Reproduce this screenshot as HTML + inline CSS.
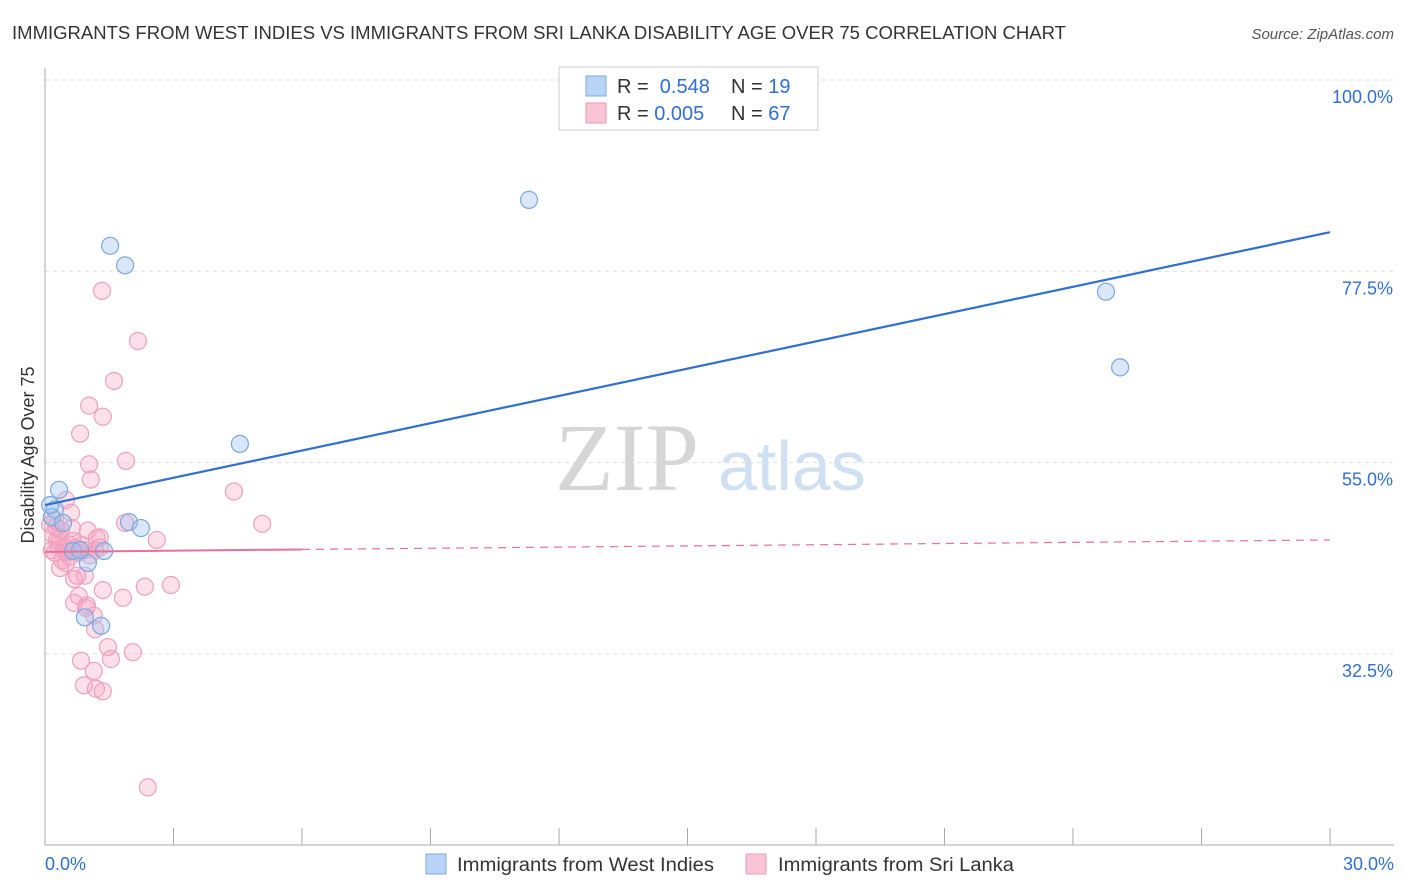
<!DOCTYPE html>
<html><head><meta charset="utf-8"><style>
body{margin:0;background:#fff;font-family:"Liberation Sans",sans-serif;}
svg{display:block}
</style></head><body>
<svg id="chart" width="1406" height="892">
<text x="12" y="39" font-size="18" fill="#333" textLength="1054" lengthAdjust="spacingAndGlyphs">IMMIGRANTS FROM WEST INDIES VS IMMIGRANTS FROM SRI LANKA DISABILITY AGE OVER 75 CORRELATION CHART</text>
<text x="1394" y="39" font-size="15" fill="#555" text-anchor="end" font-style="italic">Source: ZipAtlas.com</text>
<g id="grid"></g>
<text x="555" y="490" font-size="96" fill="#d6d6d6" font-family="Liberation Serif,serif">ZIP</text>
<text x="718" y="490" font-size="70" fill="#cfe0f3">atlas</text>
<text transform="translate(34,455) rotate(-90)" font-size="18" fill="#333" text-anchor="middle">Disability Age Over 75</text>
<g id="axes"></g>
<g id="marks"></g>
<g>
<rect x="559" y="67" width="259" height="63" fill="#fff" stroke="#ccc"/>
<rect x="586" y="76" width="20" height="20" fill="#b8d3f5" stroke="#7aa8e0"/>
<rect x="586" y="103" width="20" height="20" fill="#f9c4d5" stroke="#ee99b5"/>
<text x="617" y="93" font-size="20" fill="#333">R = <tspan fill="#2f6fd0">&#160;0.548</tspan><tspan x="731">N = </tspan><tspan fill="#2f6fd0">19</tspan></text>
<text x="617" y="120" font-size="20" fill="#333">R = <tspan fill="#2f6fd0">0.005</tspan><tspan x="731">N = </tspan><tspan fill="#2f6fd0">67</tspan></text>
</g>
<g>
<rect x="426" y="854" width="20" height="20" fill="#b8d3f5" stroke="#7aa8e0"/>
<text x="457" y="871" font-size="19" fill="#333" textLength="257" lengthAdjust="spacingAndGlyphs">Immigrants from West Indies</text>
<rect x="746" y="854" width="20" height="20" fill="#f9c4d5" stroke="#ee99b5"/>
<text x="778" y="871" font-size="19" fill="#333" textLength="236" lengthAdjust="spacingAndGlyphs">Immigrants from Sri Lanka</text>
</g>
</svg>
<script>
const blueX=[1.52,1.87,11.30,4.55,24.77,25.10,0.33,0.23,0.16,0.42,1.96,2.24,0.65,1.38,1.0,0.93,1.31,0.12,0.82];
const blueY=[80.5,78.2,85.9,57.2,75.1,66.2,51.8,49.5,48.6,47.9,48.0,47.3,44.6,44.6,43.2,36.8,35.8,50.0,44.7];
const pinkX=[1.33,2.17,1.61,1.03,1.35,0.82,1.89,1.03,1.07,4.41,0.49,0.61,5.07,1.87,0.23,1.00,1.28,1.21,2.61,0.35,0.65,0.30,0.44,0.16,0.23,0.54,0.79,0.91,0.58,0.40,0.49,1.17,0.93,0.68,0.75,0.35,2.33,2.94,1.35,0.79,1.82,0.68,0.98,0.96,1.14,1.17,1.47,2.05,0.84,1.54,1.14,0.91,1.19,1.35,2.40,0.12,0.19,0.28,0.47,0.56,0.72,0.86,1.05,0.26,0.63,0.37,1.28];
const pinkY=[75.2,69.3,64.6,61.7,60.4,58.4,55.2,54.8,53.0,51.6,50.6,49.1,47.8,47.9,48.2,47.0,46.2,46.1,45.9,46.2,45.8,45.3,45.1,44.7,44.4,44.5,44.4,44.7,43.9,43.5,43.2,44.7,41.7,41.3,41.7,42.6,40.4,40.6,40.0,39.3,39.1,38.5,38.2,37.9,37.0,35.4,33.3,32.7,31.7,31.9,30.5,28.8,28.4,28.1,16.8,47.7,46.5,45.9,44.7,45.3,45.0,45.3,44.1,47.4,47.3,47.1,45.0];
const blueTrend=[50.0,82.1];
const pinkTrend=[44.5,45.9];
const yTicks=[100,77.5,55,32.5];
const yTickLabels=["100.0%","77.5%","55.0%","32.5%"];
const xTicks=[0,3,6,9,12,15,18,21,24,27,30];

const NS="http://www.w3.org/2000/svg";
const sx=v=>45+v/30*1285;
const sy=v=>80+(100-v)*8.502;
function mk(tag,attrs,parent){const e=document.createElementNS(NS,tag);for(const k in attrs)e.setAttribute(k,attrs[k]);parent.appendChild(e);return e;}
const grid=document.getElementById('grid'),axes=document.getElementById('axes'),marks=document.getElementById('marks');
yTicks.forEach((t,i)=>{
  const l=mk('line',{x1:45,x2:1394,y1:sy(t),y2:sy(t),stroke:'#ddd','stroke-dasharray':'4,4'},grid);
  
  
  const tx=mk('text',{x:1393,y:sy(t)+23,'font-size':18,fill:'#2f6fd0','text-anchor':'end'},axes);
  tx.textContent=yTickLabels[i];
  
  
});
mk('line',{x1:45,x2:45,y1:68,y2:845,stroke:'#aaa'},axes);
mk('line',{x1:45,x2:1394,y1:845,y2:845,stroke:'#aaa'},axes);
xTicks.forEach(t=>{const l=mk('line',{x1:sx(t),x2:sx(t),y1:828,y2:845,stroke:'#aaa'},axes);
  
  });
const x0=mk('text',{x:45,y:870,'font-size':18,fill:'#2f6fd0'},axes);x0.textContent="0.0%";


const x1=mk('text',{x:1394,y:870,'font-size':18,fill:'#2f6fd0','text-anchor':'end'},axes);x1.textContent="30.0%";



pinkX.forEach((x,i)=>{const c=mk('circle',{cx:sx(x),cy:sy(pinkY[i]),r:8.5,fill:'rgba(245,165,195,0.35)',stroke:'#f0a0bc','stroke-width':1.2},marks);
  
  });
blueX.forEach((x,i)=>{const c=mk('circle',{cx:sx(x),cy:sy(blueY[i]),r:8.5,fill:'rgba(160,196,240,0.4)',stroke:'#7aa8e0','stroke-width':1.2},marks);
  
  });
const pAt=x=>pinkTrend[0]+(pinkTrend[1]-pinkTrend[0])*x/30;
const ps=mk('line',{x1:sx(0),y1:sy(pAt(0)),x2:sx(6),y2:sy(pAt(6)),stroke:'#e8709a','stroke-width':2},marks);


const pd=mk('line',{x1:sx(6),y1:sy(pAt(6)),x2:sx(30),y2:sy(pAt(30)),stroke:'#e8709a','stroke-width':1.2,'stroke-dasharray':'8,6'},marks);


const bl=mk('line',{x1:sx(0),y1:sy(blueTrend[0]),x2:sx(30),y2:sy(blueTrend[1]),stroke:'#2f6fd0','stroke-width':2.2},marks);


</script>
</body></html>
